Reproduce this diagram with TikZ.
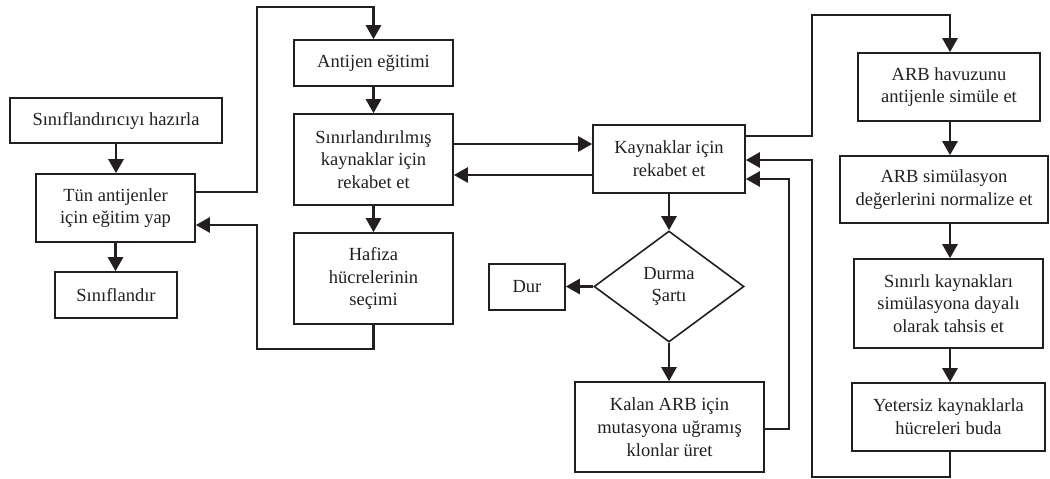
\documentclass[tikz,border=0pt]{standalone}
\usepackage{fontspec}
\setmainfont{Liberation Serif}
\usetikzlibrary{arrows.meta,shapes.geometric}
\definecolor{ink}{HTML}{231F20}
\begin{document}
\begin{tikzpicture}[x=1pt,y=-1pt,
  box/.style={draw=ink, line width=1.6pt, fill=white, text=ink, align=center,
    inner sep=0pt, font=\fontsize{18.5pt}{22.7pt}\selectfont},
  link/.style={draw=ink, line width=2.6pt, -{Triangle[length=14pt,width=15pt]}}]
\useasboundingbox (0,0) rectangle (1050,479);

% left column
\node[box, minimum width=212pt, minimum height=45pt] (prep) at (116,120.5) {Sınıflandırıcıyı hazırla};
\node[box, minimum width=159pt, minimum height=68pt] (train) at (115.5,208) {Tün antijenler\\için eğitim yap};
\node[box, minimum width=122pt, minimum height=46pt] (classify) at (116,295) {Sınıflandır};

% middle column
\node[box, minimum width=159pt, minimum height=46pt] (antigen) at (373.5,63) {Antijen eğitimi};
\node[box, minimum width=159pt, minimum height=91pt] (compete) at (373.5,159.5) {Sınırlandırılmış\\kaynaklar için\\rekabet et};
\node[box, minimum width=159pt, minimum height=91pt] (memory) at (373.5,278.5) {Hafiza\\hücrelerinin\\seçimi};

% resource competition and stopping test
\node[box, minimum width=152pt, minimum height=68pt] (kaynak) at (669,159) {Kaynaklar için\\rekabet et};
\node[box, diamond, minimum width=150pt, minimum height=111pt] (stop) at (669,286.5) {Durma\\Şartı};
\node[box, minimum width=76pt, minimum height=46pt] (dur) at (527,287) {Dur};
\node[box, minimum width=189pt, minimum height=90pt] (kalan) at (669.5,427) {Kalan ARB için\\mutasyona uğramış\\klonlar üret};

% right column
\node[box, minimum width=182pt, minimum height=68pt] (havuz) at (949,87) {ARB havuzunu\\antijenle simüle et};
\node[box, minimum width=208pt, minimum height=67pt] (simul) at (944,189.5) {ARB simülasyon\\değerlerini normalize et};
\node[box, minimum width=189pt, minimum height=89pt] (sinirli) at (948.5,303.5) {Sınırlı kaynakları\\simülasyona dayalı\\olarak tahsis et};
\node[box, minimum width=193pt, minimum height=68pt] (yetersiz) at (948.5,417) {Yetersiz kaynaklarla\\hücreleri buda};

% routing points
\coordinate (u1) at (257,192);
\coordinate (u2) at (257,7);
\coordinate (m1) at (257,349);
\coordinate (m2) at (257,225);
\coordinate (h1) at (0,144);
\coordinate (h2) at (0,175);
\coordinate (k1) at (789,429);
\coordinate (k2) at (789,179);
\coordinate (t1) at (812,136);
\coordinate (t2) at (812,15);
\coordinate (b1) at (812,477);
\coordinate (b2) at (812,160);
\coordinate (colx) at (950,0);

% left column flow
\draw[link] (prep.south) -- (train.north -| prep.south);
\draw[link] (train.south) -- (classify.north -| train.south);
\draw[link] (train.east |- u1) -- (u1) -- (u2) -- (u2 -| antigen.north) -- (antigen.north);

% middle column flow
\draw[link] (antigen) -- (compete);
\draw[link] (compete) -- (memory);
\draw[link] (memory.south) -- (memory.south |- m1) -- (m1) -- (m2) -- (train.east |- m2);
\draw[link] (compete.east |- h1) -- (kaynak.west |- h1);
\draw[link] (kaynak.west |- h2) -- (compete.east |- h2);

% competition loop
\draw[link] (kaynak) -- (stop);
\draw[link] (stop.west) -- (dur.east |- stop.west);
\draw[link] (stop.south) -- (kalan.north -| stop.south);
\draw[link] (kalan.east |- k1) -- (k1) -- (k2) -- (kaynak.east |- k2);

% stimulation chain
\draw[link] (kaynak.east |- t1) -- (t1) -- (t2) -- (t2 -| colx) -- (havuz.north -| colx);
\draw[link] (havuz.south -| colx) -- (simul.north -| colx);
\draw[link] (simul.south -| colx) -- (sinirli.north -| colx);
\draw[link] (sinirli.south -| colx) -- (yetersiz.north -| colx);
\draw[link] (yetersiz.south -| colx) -- (b1 -| colx) -- (b1) -- (b2) -- (kaynak.east |- b2);
\end{tikzpicture}
\end{document}
